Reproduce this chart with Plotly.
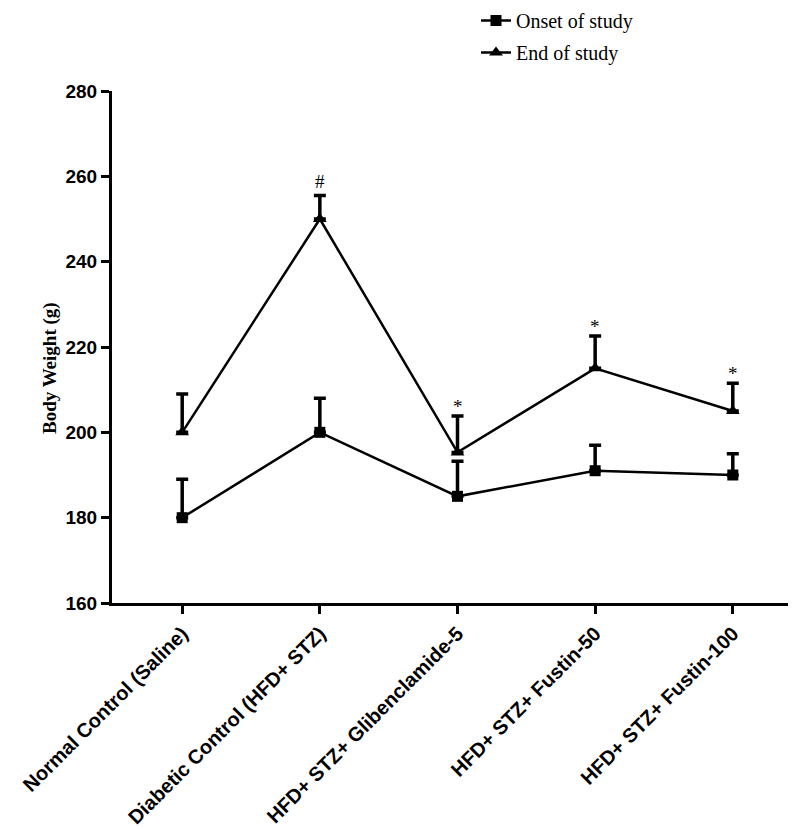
import plotly.graph_objects as go

categories = ["Normal Control (Saline)", "Diabetic Control (HFD+ STZ)",
              "HFD+ STZ+ Glibenclamide-5", "HFD+ STZ+ Fustin-50", "HFD+ STZ+ Fustin-100"]
onset = [180, 200, 185, 191, 190]
onset_sem = [9, 8, 8.2, 6, 5]
end = [200, 250, 195.3, 215, 205]
end_sem = [9, 5.5, 8.5, 7.6, 6.5]
marks = ["", "#", "*", "*", "*"]
yticks = [160, 180, 200, 220, 240, 260, 280]

W, H = 796, 831
L, R, T, B = 104, 1, 83, 236
PH = H - T - B

fig = go.Figure()
err_style = dict(type="data", symmetric=False, thickness=3.5, width=6, color="black")
fig.add_trace(go.Scatter(
    x=categories, y=onset, name="Onset of study", mode="lines+markers",
    line=dict(color="black", width=2.5),
    marker=dict(symbol="square", size=11, color="black"),
    error_y=dict(array=onset_sem, arrayminus=[0] * len(onset), **err_style),
    legendgroup="a",
))
fig.add_trace(go.Scatter(
    x=categories, y=end, name="End of study", mode="lines+markers",
    line=dict(color="black", width=2.5),
    marker=dict(symbol="triangle-up", size=12, color="black"),
    error_y=dict(array=end_sem, arrayminus=[0] * len(end), **err_style),
    legendgroup="b",
))

annotations = []
for c, v, s, m in zip(categories, end, end_sem, marks):
    if m:
        annotations.append(dict(
            x=c, y=v + s, xref="x", yref="y", text=m, showarrow=False,
            yanchor="bottom", yshift=(2 if m == "#" else -3),
            font=dict(family="Liberation Serif", size=19, color="black"),
        ))
annotations.append(dict(
    x=0, y=(H - B - 360) / PH, xref="paper", yref="paper", xanchor="center", yanchor="middle",
    xshift=-62, text="<b>Body Weight (g)</b>", textangle=-90, showarrow=False,
    font=dict(family="Liberation Serif", size=19, color="black"),
))

fig.update_layout(
    width=W, height=H,
    margin=dict(l=L, r=R, t=T, b=B, autoexpand=False),
    plot_bgcolor="white", paper_bgcolor="white",
    showlegend=True,
    legend=dict(x=(468 - L) / (W - L - R), y=(H - B + 7) / PH, xanchor="left", yanchor="top",
                font=dict(family="Liberation Serif", size=20, color="black"),
                bgcolor="rgba(0,0,0,0)", tracegroupgap=3, itemwidth=30),
    annotations=annotations,
    xaxis=dict(
        type="category", range=[-0.51, 4.51],
        showline=True, linecolor="black", linewidth=3,
        ticks="outside", ticklen=8, tickwidth=2.5, tickcolor="black",
        tickangle=-45, showgrid=False, zeroline=False,
        tickfont=dict(family="Liberation Sans", size=20, color="black", weight="bold"),
    ),
    yaxis=dict(
        range=[160, 280], tickvals=yticks,
        showline=True, linecolor="black", linewidth=3,
        ticks="outside", ticklen=8, tickwidth=2.5, tickcolor="black",
        showgrid=False, zeroline=False,
        tickfont=dict(family="Liberation Sans", size=19, color="black", weight="bold"),
    ),
)

fig.write_html("out.html")
